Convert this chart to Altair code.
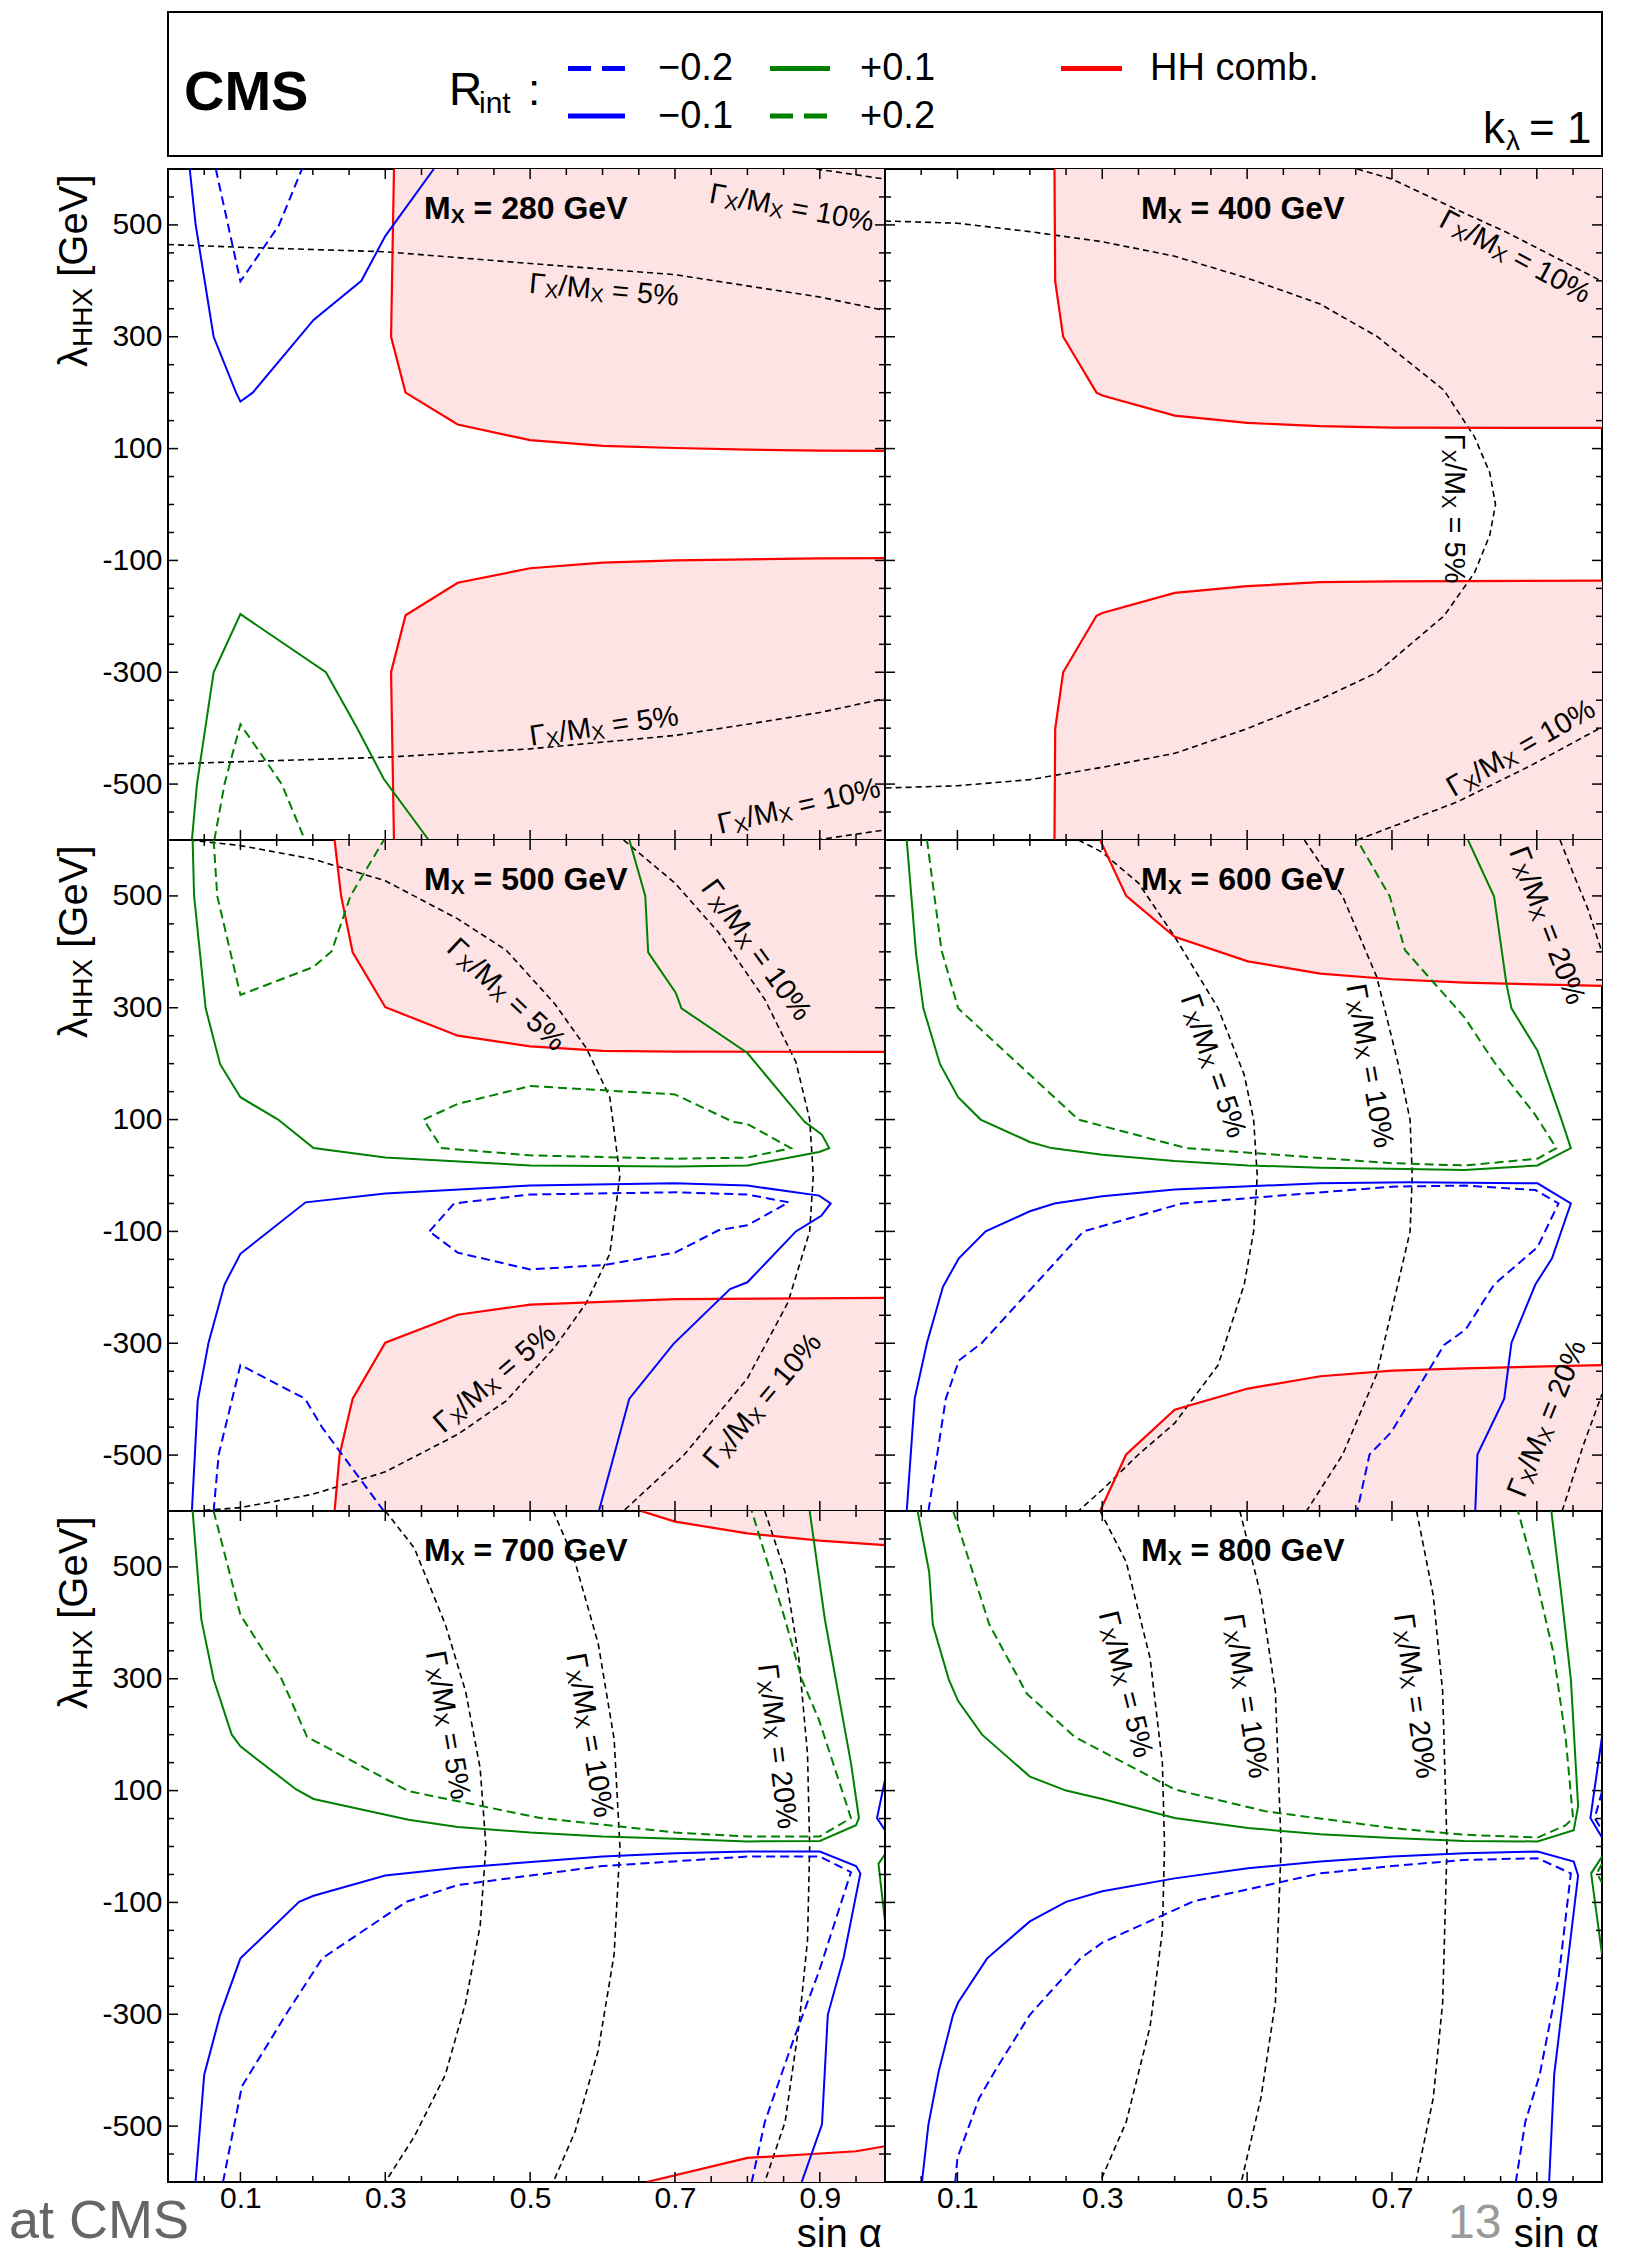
import altair as alt
import pandas as pd

FONT = "Liberation Sans"
XDOM = [0.0, 0.99]
YDOM = [-600, 600]
W, H = 717, 671
BLUE, GREEN, RED, PINK = "#0000ff", "#008000", "#ff0000", "#fde3e3"

X_MAJOR = [0.1, 0.3, 0.5, 0.7, 0.9]
X_MINOR = [0.05, 0.15, 0.2, 0.25, 0.35, 0.4, 0.45, 0.55, 0.6, 0.65, 0.75, 0.8, 0.85, 0.95]
Y_MAJOR = [-500, -300, -100, 100, 300, 500]
Y_MINOR = [-550, -450, -400, -350, -250, -200, -150, -50, 0, 50, 150, 200, 250, 350, 400, 450, 550]

# ---------------- M_X = 280 GeV ----------------
m280_hh_upper = [(0.312, 600), (0.308, 300), (0.328, 200), (0.400, 143), (0.500, 115), (0.600, 105), (0.700, 101), (0.800, 98), (0.900, 96.5), (0.990, 96)]
m280_hh_lower = [(0.312, -600), (0.308, -300), (0.328, -198), (0.400, -140), (0.500, -114), (0.600, -104), (0.700, -100), (0.800, -98), (0.900, -96.5), (0.990, -96)]
m280_blue1 = [(0.030, 600), (0.038, 502), (0.063, 300), (0.094, 200), (0.100, 184), (0.117, 200), (0.201, 330), (0.267, 400), (0.300, 480), (0.367, 600)]
m280_blue2 = [(0.066, 600), (0.100, 399), (0.153, 499), (0.185, 600)]
m280_green1 = [(0.033, -600), (0.040, -500), (0.063, -300), (0.100, -196), (0.218, -300), (0.260, -397), (0.298, -491), (0.360, -600)]
m280_green2 = [(0.064, -600), (0.078, -500), (0.100, -393), (0.157, -500), (0.189, -600)]
m280_w5_up = [(0.0, 465), (0.1, 460), (0.3, 452), (0.5, 431), (0.7, 411), (0.8, 391), (0.9, 371), (0.99, 347)]
m280_w5_lo = [(0.0, -464), (0.3, -452), (0.5, -437), (0.7, -413), (0.8, -393), (0.9, -372), (0.99, -347)]
m280_w10_up = [(0.895, 600), (0.99, 582)]
m280_w10_lo = [(0.895, -600), (0.99, -582)]
m280_labels = [(0.602, 383, 5, "5%"), (0.602, -397, 352, "5%"), (0.861, 530, 10, "10%"), (0.871, -540, 347, "10%")]

# ---------------- M_X = 400 GeV ----------------
m400_hh_upper = [(0.234, 600), (0.235, 399), (0.246, 300), (0.292, 200), (0.300, 195), (0.400, 159), (0.500, 146), (0.600, 140), (0.700, 137.5), (0.990, 137)]
m400_hh_lower = [(0.234, -600), (0.235, -401), (0.246, -300), (0.292, -199), (0.300, -194), (0.400, -158), (0.500, -146), (0.600, -139), (0.700, -137.5), (0.990, -136)]
m400_w5 = [(0.0, 507), (0.1, 503), (0.2, 488), (0.3, 470), (0.4, 444), (0.5, 405), (0.6, 359), (0.68, 300), (0.772, 204), (0.814, 121), (0.835, 57), (0.843, 0),
           (0.835, -55), (0.814, -122), (0.772, -199), (0.68, -300), (0.6, -349), (0.5, -401), (0.4, -445), (0.3, -470), (0.2, -492), (0.1, -503), (0.0, -507)]
m400_w10_up = [(0.652, 600), (0.700, 582), (0.790, 527), (0.858, 487), (0.990, 399)]
m400_w10_lo = [(0.652, -600), (0.790, -532), (0.890, -468), (0.990, -398)]
m400_labels = [(0.870, 443, 28, "10%"), (0.878, -436, 330, "10%"), (0.785, -7, 90, "5%")]

# ---------------- M_X = 500 GeV ----------------
m500_hh_upper = [(0.230, 600), (0.239, 500), (0.255, 399), (0.300, 301), (0.400, 250), (0.500, 231), (0.600, 223), (0.700, 221.5), (0.990, 221)]
m500_hh_lower = [(0.230, -600), (0.237, -499), (0.255, -399), (0.300, -299), (0.400, -249), (0.500, -231), (0.700, -221), (0.990, -219)]
m500_green1 = [(0.034, 600), (0.036, 500), (0.052, 299), (0.072, 199), (0.100, 140), (0.152, 100), (0.201, 49), (0.300, 32), (0.500, 18), (0.700, 16), (0.800, 18),
               (0.899, 42), (0.913, 49), (0.903, 73), (0.879, 96), (0.800, 219), (0.709, 299), (0.701, 327), (0.663, 399), (0.659, 500), (0.637, 600)]
m500_green2a = [(0.063, 600), (0.068, 500), (0.100, 323), (0.201, 373), (0.226, 401), (0.252, 500), (0.298, 600)]
m500_green2b = [(0.353, 100), (0.400, 128), (0.500, 160), (0.700, 145), (0.780, 96), (0.800, 92), (0.860, 49), (0.800, 32), (0.700, 30), (0.500, 36), (0.378, 49), (0.353, 100)]
m500_blue1 = [(0.033, -600), (0.041, -403), (0.056, -299), (0.078, -195), (0.100, -140), (0.190, -48), (0.300, -32), (0.500, -18), (0.700, -14), (0.800, -18),
              (0.899, -36), (0.915, -50), (0.902, -72), (0.867, -100), (0.800, -191), (0.776, -203), (0.698, -301), (0.637, -399), (0.595, -600)]
m500_blue2a = [(0.361, -100), (0.395, -50), (0.500, -34), (0.700, -30), (0.800, -34), (0.857, -48), (0.800, -89), (0.760, -98), (0.700, -138), (0.602, -160), (0.500, -168), (0.400, -138), (0.361, -100)]
m500_blue2b = [(0.063, -600), (0.070, -499), (0.100, -339), (0.189, -399), (0.213, -451), (0.298, -600)]
m500_w5 = [(0.030, 600), (0.1, 590), (0.2, 566), (0.3, 527), (0.4, 459), (0.467, 403), (0.534, 307), (0.578, 227), (0.610, 140), (0.624, 0),
           (0.610, -140), (0.578, -227), (0.534, -307), (0.467, -403), (0.4, -463), (0.3, -530), (0.2, -570), (0.1, -594), (0.038, -600)]
m500_w10 = [(0.629, 600), (0.700, 523), (0.760, 435), (0.824, 315), (0.867, 203), (0.886, 100), (0.891, 0), (0.886, -100), (0.856, -227), (0.800, -363), (0.713, -499), (0.629, -600)]
m500_labels = [(0.467, 323, 43, "5%"), (0.812, 403, 54, "10%"), (0.451, -363, 319.5, "5%"), (0.821, -403, 310, "10%")]

# ---------------- M_X = 600 GeV ----------------
m600_hh_upper = [(0.297, 600), (0.333, 500), (0.400, 427), (0.501, 383), (0.601, 361), (0.700, 351), (0.800, 345), (0.990, 339)]
m600_hh_lower = [(0.297, -600), (0.333, -499), (0.400, -419), (0.501, -381), (0.601, -359), (0.700, -349), (0.800, -345), (0.990, -339)]
m600_green1 = [(0.030, 600), (0.043, 395), (0.053, 299), (0.076, 199), (0.101, 140), (0.132, 100), (0.200, 60), (0.230, 49), (0.300, 37), (0.400, 26), (0.501, 18),
               (0.601, 14), (0.700, 12), (0.800, 10), (0.901, 18), (0.947, 49), (0.934, 100), (0.901, 223), (0.865, 299), (0.858, 343), (0.841, 499), (0.805, 600)]
m600_green2 = [(0.058, 600), (0.078, 403), (0.101, 299), (0.267, 100), (0.416, 49), (0.700, 22), (0.800, 18), (0.901, 30), (0.927, 49), (0.898, 108),
               (0.841, 203), (0.800, 283), (0.718, 403), (0.697, 499), (0.652, 600)]
m600_blue1 = [(0.030, -600), (0.041, -399), (0.058, -299), (0.080, -199), (0.102, -148), (0.139, -100), (0.200, -64), (0.234, -50), (0.300, -37), (0.400, -25),
              (0.600, -14), (0.725, -12), (0.901, -14), (0.947, -50), (0.921, -148), (0.898, -195), (0.865, -299), (0.855, -399), (0.818, -499), (0.815, -600)]
m600_blue2 = [(0.060, -600), (0.084, -399), (0.102, -331), (0.134, -299), (0.274, -100), (0.410, -50), (0.700, -20), (0.800, -18), (0.898, -26), (0.930, -50),
              (0.901, -128), (0.841, -195), (0.802, -275), (0.772, -303), (0.699, -459), (0.669, -499), (0.652, -600)]
m600_w5 = [(0.267, 600), (0.300, 578), (0.350, 523), (0.400, 427), (0.460, 299), (0.496, 180), (0.509, 100), (0.514, 0), (0.509, -100), (0.496, -195),
           (0.460, -339), (0.400, -443), (0.350, -499), (0.300, -562), (0.267, -600)]
m600_w10 = [(0.579, 600), (0.632, 499), (0.679, 355), (0.708, 203), (0.725, 100), (0.728, 0), (0.725, -100), (0.708, -195), (0.679, -355), (0.632, -499), (0.582, -600)]
m600_w20_up = [(0.932, 600), (0.951, 538), (0.971, 475), (0.990, 399)]
m600_w20_lo = [(0.935, -600), (0.964, -483), (0.990, -391)]
m600_labels = [(0.453, 196, 71, "5%"), (0.669, 196, 80, "10%"), (0.914, 447, 69, "20%"), (0.914, -435, 292, "20%")]

# ---------------- M_X = 700 GeV ----------------
m700_hh_upper = [(0.653, 600), (0.700, 581), (0.800, 560), (0.900, 547), (0.990, 539)]
m700_hh_lower = [(0.661, -600), (0.800, -557), (0.900, -549), (0.950, -545), (0.990, -536)]
m700_green1 = [(0.034, 600), (0.046, 406), (0.063, 299), (0.088, 200), (0.100, 179), (0.177, 102), (0.201, 85), (0.332, 48), (0.400, 35), (0.500, 25), (0.600, 18),
               (0.700, 14), (0.800, 9), (0.900, 10), (0.950, 38), (0.954, 51), (0.943, 149), (0.907, 406), (0.886, 600)]
m700_green1b = [(0.990, -14), (0.981, -31), (0.990, -134)]
m700_green2 = [(0.063, 600), (0.100, 414), (0.157, 299), (0.192, 196), (0.332, 99), (0.514, 51), (0.700, 25), (0.800, 18), (0.900, 18), (0.943, 51),
               (0.899, 226), (0.875, 299), (0.852, 406), (0.806, 600)]
m700_blue1 = [(0.038, -600), (0.050, -408), (0.072, -301), (0.100, -200), (0.181, -99), (0.201, -88), (0.300, -52), (0.400, -38), (0.600, -18), (0.700, -12),
              (0.800, -9), (0.900, -9), (0.950, -35), (0.956, -48), (0.933, -198), (0.911, -301), (0.903, -497), (0.875, -600)]
m700_blue1b = [(0.990, 119), (0.979, 51), (0.990, 29)]
m700_blue2 = [(0.076, -600), (0.102, -429), (0.165, -296), (0.213, -200), (0.329, -99), (0.400, -69), (0.600, -35), (0.800, -18), (0.900, -18), (0.943, -46),
              (0.899, -223), (0.863, -348), (0.824, -493), (0.806, -600)]
m700_w5 = [(0.300, 600), (0.340, 534), (0.383, 397), (0.411, 277), (0.431, 140), (0.439, 0), (0.431, -142), (0.411, -279), (0.383, -408), (0.340, -519), (0.300, -600)]
m700_w10 = [(0.532, 600), (0.562, 509), (0.594, 363), (0.616, 192), (0.624, 0), (0.616, -193), (0.594, -365), (0.562, -510), (0.532, -600)]
m700_w20 = [(0.824, 600), (0.852, 491), (0.871, 337), (0.883, 166), (0.886, 0), (0.883, -168), (0.871, -322), (0.852, -493), (0.824, -600)]
m700_labels = [(0.386, 217, 80, "5%"), (0.582, 199, 80, "10%"), (0.841, 179, 83, "20%")]

# ---------------- M_X = 800 GeV ----------------
m800_green1 = [(0.045, 600), (0.061, 491), (0.066, 397), (0.088, 299), (0.101, 260), (0.134, 200), (0.200, 125), (0.250, 100), (0.300, 85), (0.400, 51),
               (0.501, 33), (0.601, 22), (0.700, 15), (0.800, 10), (0.901, 9), (0.951, 29), (0.957, 72), (0.947, 299), (0.934, 449), (0.920, 600)]
m800_green1b = [(0.990, -18), (0.975, -48), (0.990, -193)]
m800_green2 = [(0.094, 600), (0.101, 573), (0.144, 397), (0.196, 273), (0.262, 196), (0.400, 102), (0.525, 63), (0.700, 33), (0.800, 21), (0.901, 16),
               (0.940, 38), (0.950, 51), (0.940, 192), (0.923, 346), (0.897, 491), (0.874, 600)]
m800_green2b = [(0.990, -31), (0.983, -48), (0.990, -65)]
m800_blue1 = [(0.051, -600), (0.060, -497), (0.074, -403), (0.094, -301), (0.101, -279), (0.141, -200), (0.200, -134), (0.250, -99), (0.300, -80), (0.400, -57),
              (0.501, -39), (0.601, -27), (0.700, -18), (0.800, -12), (0.901, -9), (0.951, -27), (0.957, -52), (0.940, -236), (0.924, -408), (0.917, -600)]
m800_blue1b = [(0.990, 196), (0.974, 51), (0.990, 16)]
m800_blue2 = [(0.097, -600), (0.100, -557), (0.130, -450), (0.153, -399), (0.200, -301), (0.270, -200), (0.300, -172), (0.426, -98), (0.601, -48), (0.700, -35),
              (0.800, -24), (0.901, -21), (0.947, -48), (0.930, -236), (0.904, -408), (0.884, -493), (0.871, -600)]
m800_blue2b = [(0.990, 98), (0.980, 51), (0.990, 29)]
m800_w5 = [(0.297, 600), (0.333, 509), (0.366, 337), (0.383, 149), (0.386, 0), (0.383, -151), (0.366, -322), (0.333, -493), (0.297, -600)]
m800_w10 = [(0.490, 600), (0.519, 449), (0.539, 277), (0.547, 0), (0.539, -279), (0.519, -450), (0.492, -600)]
m800_w20 = [(0.734, 600), (0.757, 449), (0.770, 277), (0.776, 0), (0.770, -279), (0.757, -450), (0.733, -600)]
m800_labels = [(0.332, 290, 76, "5%"), (0.498, 269, 81, "10%"), (0.731, 269, 82, "20%")]

PANELS = [
    dict(mass=280, hh=[m280_hh_upper, m280_hh_lower], blue1=[m280_blue1], blue2=[m280_blue2], green1=[m280_green1], green2=[m280_green2],
         widths=[m280_w5_up, m280_w5_lo, m280_w10_up, m280_w10_lo], labels=m280_labels),
    dict(mass=400, hh=[m400_hh_upper, m400_hh_lower], blue1=[], blue2=[], green1=[], green2=[],
         widths=[m400_w5, m400_w10_up, m400_w10_lo], labels=m400_labels),
    dict(mass=500, hh=[m500_hh_upper, m500_hh_lower], blue1=[m500_blue1], blue2=[m500_blue2a, m500_blue2b], green1=[m500_green1], green2=[m500_green2a, m500_green2b],
         widths=[m500_w5, m500_w10], labels=m500_labels),
    dict(mass=600, hh=[m600_hh_upper, m600_hh_lower], blue1=[m600_blue1], blue2=[m600_blue2], green1=[m600_green1], green2=[m600_green2],
         widths=[m600_w5, m600_w10, m600_w20_up, m600_w20_lo], labels=m600_labels),
    dict(mass=700, hh=[m700_hh_upper, m700_hh_lower], blue1=[m700_blue1, m700_blue1b], blue2=[m700_blue2], green1=[m700_green1, m700_green1b], green2=[m700_green2],
         widths=[m700_w5, m700_w10, m700_w20], labels=m700_labels),
    dict(mass=800, hh=[], blue1=[m800_blue1, m800_blue1b], blue2=[m800_blue2, m800_blue2b], green1=[m800_green1, m800_green1b], green2=[m800_green2, m800_green2b],
         widths=[m800_w5, m800_w10, m800_w20], labels=m800_labels),
]

# Arial / Liberation Sans advance widths (em)
ADV = {"Γ": 0.556, "X": 0.667, "/": 0.278, "M": 0.833, " ": 0.278, "=": 0.584, "%": 0.889, ".": 0.278,
       "λ": 0.5, "H": 0.722, "[": 0.278, "]": 0.278, "G": 0.778, "e": 0.556, "V": 0.667}


def tw(s, size):
    return sum(ADV.get(c, 0.556) for c in s) * size


def compose(parts, center=True):
    pos = 0.0
    out = []
    for text, size, dy, wt in parts:
        lead = len(text) - len(text.lstrip(" "))
        out.append([text.strip(" "), size, pos + lead * ADV[" "] * size, dy, wt])
        pos += tw(text, size)
    if center:
        for o in out:
            o[2] -= pos / 2
    return out


ONE = pd.DataFrame({"k": [0]})


def to_df(curves, close=False):
    rows = []
    for s, c in enumerate(curves):
        pts = list(c)
        if close:
            # excluded region: close the contour along the right frame edge and the top/bottom edge it starts on
            pts = pts + [(XDOM[1], c[0][1])]
        for i, (x, y) in enumerate(pts):
            rows.append({"seg": s, "i": i, "x": x, "y": y})
    return pd.DataFrame(rows)


def legend_layers():
    leg = []

    def ltext(t, x, y, size, base="middle", weight="normal"):
        leg.append(alt.Chart(ONE).mark_text(text=t, fontSize=size, align="left", baseline=base, font=FONT,
                                            fontWeight=weight, color="black").encode(x=alt.value(x), y=alt.value(y)))

    def lline(x1, x2, y, color, dash=None):
        kw = dict(color=color, strokeWidth=5)
        if dash:
            kw["strokeDash"] = dash
        leg.append(alt.Chart(ONE).mark_rule(**kw).encode(x=alt.value(x1), x2=alt.value(x2), y=alt.value(y)))

    top = -157  # legend box sits above the first row of panels
    leg.append(alt.Chart(ONE).mark_rect(fill="white", stroke="black", strokeWidth=2).encode(
        x=alt.value(0), x2=alt.value(2 * W), y=alt.value(top), y2=alt.value(top + 144)))
    ltext("CMS", 16, top + 98, 56, base="alphabetic", weight="bold")
    ltext("R", 281, top + 93, 46, base="alphabetic")
    ltext("int", 311, top + 101, 30, base="alphabetic")
    ltext(":", 360, top + 93, 44, base="alphabetic")
    lline(400, 457, top + 56.5, BLUE, [23, 11])
    lline(400, 457, top + 104, BLUE)
    ltext("−0.2", 490, top + 57, 38)
    ltext("−0.1", 490, top + 105, 38)
    lline(602, 662, top + 56.5, GREEN)
    lline(602, 662, top + 104, GREEN, [23, 11])
    ltext("+0.1", 692, top + 57, 38)
    ltext("+0.2", 692, top + 105, 38)
    lline(893, 954, top + 56.5, RED)
    ltext("HH comb.", 982, top + 57, 38)
    ltext("k", 1315, top + 131, 44, base="alphabetic")
    ltext("λ", 1338, top + 138, 28, base="alphabetic")
    ltext("= 1", 1361, top + 131, 44, base="alphabetic")
    return leg


def panel(p, show_x, show_y, with_legend=False):
    xs = alt.Scale(domain=XDOM, nice=False, zero=False)
    ys = alt.Scale(domain=YDOM, nice=False, zero=False)
    if show_x:
        xaxis = alt.Axis(values=X_MAJOR, format=".1f", ticks=False, tickSize=0, domain=False, grid=False,
                         labelFont=FONT, labelFontSize=30, labelColor="black", labelPadding=1, title=None)
    else:
        xaxis = None
    if show_y:
        yaxis = alt.Axis(values=Y_MAJOR, ticks=False, tickSize=0, domain=False, grid=False,
                         labelExpr="datum.value < 0 ? '-' + format(-datum.value, 'd') : format(datum.value, 'd')",
                         labelFont=FONT, labelFontSize=30, labelColor="black", labelPadding=6, title=None)
    else:
        yaxis = None

    def X(f):
        return alt.X(f"{f}:Q", scale=xs, axis=xaxis)

    def Y(f):
        return alt.Y(f"{f}:Q", scale=ys, axis=yaxis)

    layers = []
    if p["hh"]:
        layers.append(alt.Chart(to_df(p["hh"], close=True)).mark_line(
            filled=True, fill=PINK, color=PINK, strokeWidth=0, strokeOpacity=0, fillOpacity=1, clip=True).encode(
            x=X("x"), y=Y("y"), detail="seg:N", order="i:Q"))

    def line(curves, color, width, dash=None):
        if not curves:
            return
        kw = dict(color=color, strokeWidth=width, clip=True)
        if dash:
            kw["strokeDash"] = dash
        layers.append(alt.Chart(to_df(curves)).mark_line(**kw).encode(
            x=X("x"), y=Y("y"), detail="seg:N", order="i:Q"))

    line(p["widths"], "black", 1.6, [6, 4])
    line(p["hh"], RED, 2.2)
    line(p["blue2"], BLUE, 2, [9, 5])
    line(p["blue1"], BLUE, 2)
    line(p["green2"], GREEN, 2, [9, 5])
    line(p["green1"], GREEN, 2)

    # inward ticks on all four sides
    for vals, ln in ((X_MAJOR, 10), (X_MINOR, 6)):
        d = pd.DataFrame({"t": vals})
        layers.append(alt.Chart(d).mark_rule(color="black", strokeWidth=1.5).encode(
            x=X("t"), y=alt.value(H), y2=alt.value(H - ln)))
        layers.append(alt.Chart(d).mark_rule(color="black", strokeWidth=1.5).encode(
            x=X("t"), y=alt.value(0), y2=alt.value(ln)))
    for vals, ln in ((Y_MAJOR, 10), (Y_MINOR, 6)):
        d = pd.DataFrame({"t": vals})
        layers.append(alt.Chart(d).mark_rule(color="black", strokeWidth=1.5).encode(
            y=Y("t"), x=alt.value(0), x2=alt.value(ln)))
        layers.append(alt.Chart(d).mark_rule(color="black", strokeWidth=1.5).encode(
            y=Y("t"), x=alt.value(W), x2=alt.value(W - ln)))

    # width-contour labels  Γ_X/M_X = n%
    for (lx, ly, ang, pct) in p["labels"]:
        segs = compose([("Γ", 29, 0, "normal"), ("X", 20, 6, "normal"), ("/M", 29, 0, "normal"),
                        ("X", 20, 6, "normal"), (" = " + pct, 29, 0, "normal")])
        d = pd.DataFrame({"x": [lx], "y": [ly]})
        for t, size, dx, dy, wt in segs:
            layers.append(alt.Chart(d).mark_text(text=t, fontSize=size, dx=dx, dy=dy, angle=ang, align="left",
                                                 baseline="middle", font=FONT, color="black").encode(x=X("x"), y=Y("y")))

    # panel title  M_X = ... GeV
    segs = compose([("M", 32, 0, "bold"), ("X", 21, 4, "bold"), (f" = {p['mass']} GeV", 32, 0, "bold")])
    d = pd.DataFrame({"x": [0.494], "y": [511]})
    for t, size, dx, dy, wt in segs:
        layers.append(alt.Chart(d).mark_text(text=t, fontSize=size, dx=dx, dy=dy, align="left", baseline="alphabetic",
                                             font=FONT, fontWeight=wt, color="black").encode(x=X("x"), y=Y("y")))

    if show_y:
        segs = compose([("λ", 40, 0, "normal"), ("HHX", 28, 5, "normal"), (" [GeV]", 40, 0, "normal")], center=False)
        for t, size, dx, dy, wt in segs:
            layers.append(alt.Chart(ONE).mark_text(text=t, fontSize=size, dx=dx, dy=dy, angle=270, align="left",
                                                   baseline="alphabetic", font=FONT, color="black").encode(
                x=alt.value(-81), y=alt.value(198)))
    if show_x:
        layers.append(alt.Chart(ONE).mark_text(text="sin α", fontSize=40, align="right", baseline="alphabetic",
                                               font=FONT, color="black").encode(x=alt.value(W - 3), y=alt.value(H + 65)))
        if show_y:
            layers.append(alt.Chart(ONE).mark_text(text="at CMS", fontSize=54, align="left", baseline="alphabetic",
                                                   font=FONT, color="#666666").encode(x=alt.value(-159), y=alt.value(H + 56)))
        else:
            layers.append(alt.Chart(ONE).mark_text(text="13", fontSize=48, align="left", baseline="alphabetic",
                                                   font=FONT, color="#999999").encode(x=alt.value(563), y=alt.value(H + 56)))
    if with_legend:
        layers += legend_layers()

    return alt.layer(*layers).properties(width=W, height=H)


cells = []
for k, p in enumerate(PANELS):
    r, c = divmod(k, 2)
    cells.append(panel(p, show_x=(r == 2), show_y=(c == 0), with_legend=(k == 0)))

chart = alt.concat(*cells, columns=2, spacing=0, bounds="flush").properties(
    padding={"left": 8, "top": 10, "right": 4, "bottom": 2},
    background="white",
).configure_view(stroke="black", strokeWidth=2)

chart.save("out.html", embed_options={"renderer": "svg", "actions": False})
